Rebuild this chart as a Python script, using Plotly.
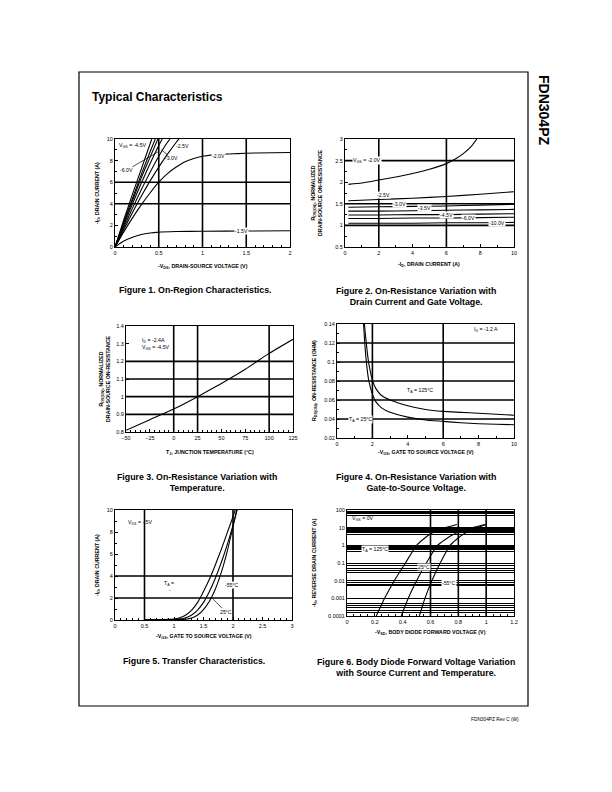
import math
import plotly.graph_objects as go

W, H = 612, 792
FONT = "Liberation Sans, Arial, Helvetica, sans-serif"

# ---------------- Figure 1: On-Region Characteristics ----------------
F1_VDS_10V = [0, 0.1, 0.2, 0.3, 0.42]
F1_ID_10V = [0, 2.5, 4.9, 7.2, 10.0]
F1_VDS_6V = [0, 0.1, 0.2, 0.3, 0.4, 0.46]
F1_ID_6V = [0, 2.3, 4.5, 6.7, 8.8, 10.0]
F1_VDS_45V = [0, 0.1, 0.2, 0.3, 0.4, 0.49]
F1_ID_45V = [0, 2.2, 4.3, 6.4, 8.3, 10.0]
F1_VDS_35V = [0, 0.1, 0.2, 0.3, 0.4, 0.5, 0.54]
F1_ID_35V = [0, 2.0, 4.0, 5.9, 7.7, 9.4, 10.0]
F1_VDS_3V = [0, 0.1, 0.2, 0.3, 0.4, 0.5, 0.6, 0.63]
F1_ID_3V = [0, 1.8, 3.6, 5.3, 6.9, 8.4, 9.7, 10.0]
F1_VDS_25V = [0, 0.1, 0.2, 0.3, 0.4, 0.5, 0.6, 0.7, 0.74]
F1_ID_25V = [0, 1.6, 3.2, 4.7, 6.1, 7.4, 8.6, 9.7, 10.1]
F1_VDS_2V = [0, 0.1, 0.2, 0.3, 0.4, 0.5, 0.6, 0.7, 0.8, 0.9, 1.0, 1.2, 1.4, 1.6, 2.0]
F1_ID_2V = [0, 1.4, 2.7, 3.9, 5.0, 6.0, 6.8, 7.4, 7.9, 8.2, 8.4, 8.6, 8.65, 8.7, 8.75]
F1_VDS_15V = [0, 0.1, 0.2, 0.3, 0.4, 0.5, 0.7, 1.0, 1.5, 2.0]
F1_ID_15V = [0, 0.55, 0.9, 1.15, 1.3, 1.38, 1.43, 1.46, 1.48, 1.5]

# ---------------- Figure 2: Normalized R vs drain current ----------------
F2_ID_2V = [0.2, 1, 2, 3, 4, 5, 6, 6.5, 7, 7.5, 7.8]
F2_R_2V = [1.95, 1.98, 2.05, 2.12, 2.2, 2.3, 2.43, 2.53, 2.66, 2.84, 3.0]
F2_ID = [0.2, 2, 4, 6, 8, 10]
F2_R_25V = [1.57, 1.60, 1.63, 1.67, 1.72, 1.78]
F2_R_3V = [1.42, 1.43, 1.44, 1.45, 1.47, 1.49]
F2_R_35V = [1.33, 1.33, 1.34, 1.35, 1.36, 1.37]
F2_R_45V = [1.24, 1.24, 1.25, 1.25, 1.26, 1.27]
F2_R_6V = [1.16, 1.16, 1.17, 1.17, 1.18, 1.19]
F2_R_10V = [1.05, 1.05, 1.05, 1.06, 1.06, 1.07]

# ---------------- Figure 3: Normalized R vs temperature ----------------
F3_TJ = [-50, -25, 0, 25, 50, 75, 100, 125]
F3_R = [0.81, 0.87, 0.93, 1.0, 1.075, 1.155, 1.245, 1.325]

# ---------------- Figure 4: R vs gate voltage ----------------
F4_VGS_125 = [1.55, 1.6, 1.7, 1.8, 2.0, 2.2, 2.5, 3, 4, 5, 6, 7, 8, 9, 10]
F4_R_125 = [0.14, 0.13, 0.112, 0.098, 0.081, 0.072, 0.065, 0.060, 0.054, 0.050,
            0.048, 0.047, 0.046, 0.045, 0.044]
F4_VGS_25 = [1.5, 1.55, 1.6, 1.7, 1.8, 2.0, 2.2, 2.5, 3, 4, 5, 6, 7, 8, 9, 10]
F4_R_25 = [0.14, 0.125, 0.112, 0.093, 0.080, 0.066, 0.058, 0.052, 0.047, 0.042,
           0.039, 0.0375, 0.036, 0.035, 0.0345, 0.034]

# ---------------- Figure 5: Transfer characteristics ----------------
F5_VGS_125 = [0.5, 0.8, 1.0, 1.1, 1.2, 1.3, 1.4, 1.5, 1.6, 1.7, 1.8, 1.9, 2.0, 2.05]
F5_ID_125 = [0.03, 0.04, 0.08, 0.2, 0.45, 0.9, 1.6, 2.6, 3.7, 5.0, 6.4, 7.9, 9.4, 10.2]
F5_VGS_25 = [0.5, 0.8, 1.0, 1.1, 1.2, 1.3, 1.4, 1.5, 1.6, 1.7, 1.8, 1.9, 2.0, 2.07]
F5_ID_25 = [0.02, 0.02, 0.04, 0.08, 0.2, 0.45, 0.9, 1.6, 2.6, 3.8, 5.2, 6.8, 8.6, 10.0]
F5_VGS_M55 = [0.5, 0.8, 1.0, 1.1, 1.2, 1.3, 1.4, 1.5, 1.6, 1.7, 1.8, 1.9, 2.0, 2.07]
F5_ID_M55 = [0.01, 0.01, 0.02, 0.03, 0.07, 0.18, 0.45, 0.95, 1.7, 2.8, 4.3, 6.2, 8.5, 10.2]

# ---------------- Figure 6: Body diode forward voltage ----------------
F6_IS = [1e-4, 1e-3, 1e-2, 1e-1, 1, 4, 9, 15]
F6_VSD_125 = [0.21, 0.27, 0.34, 0.42, 0.50, 0.59, 0.69, 0.79]
F6_VSD_25 = [0.39, 0.44, 0.50, 0.57, 0.65, 0.76, 0.88, 0.99]
F6_VSD_M55 = [0.52, 0.56, 0.61, 0.67, 0.74, 0.83, 0.92, 1.00]
F6_YTICKS = [1e-4, 1e-3, 1e-2, 1e-1, 1, 10, 100]
F6_YTICKTEXT = ["0.0001", "0.001", "0.01", "0.1", "1", "10", "100"]
# horizontal rules as printed on the chart
F6_YGRID = [0.00015, 0.0002, 0.0003, 0.0004, 0.0005, 0.001,
            0.005, 0.006, 0.008, 0.01,
            0.03, 0.04, 0.05, 0.07, 0.1,
            0.45, 0.6, 0.7, 0.8, 0.9, 1,
            4, 5, 6, 7, 8, 9, 10,
            50, 60, 70, 80, 90, 100]

# ---------------- layout helpers ----------------
fig = go.Figure()


def dom(x0, x1, y0, y1):
    return [x0 / W, x1 / W], [1 - y1 / H, 1 - y0 / H]


def axis(domain, anchor, rng, dtick=None, tick0=0, minor=None, **kw):
    d = dict(domain=domain, anchor=anchor, range=rng, showline=True, mirror=True,
             linecolor="black", linewidth=1, ticks="inside", ticklen=3,
             tickcolor="black", tickwidth=0.8, showgrid=False, zeroline=False,
             tickfont=dict(family=FONT, size=5.5, color="black"),
             automargin=False, fixedrange=True)
    if dtick is not None:
        d.update(dtick=dtick, tick0=tick0)
    if minor is not None:
        d["minor"] = dict(dtick=minor, tick0=tick0, ticks="inside", ticklen=2,
                          tickcolor="black", tickwidth=0.6, showgrid=False)
    d.update(kw)
    return d


def line(xr, yr, xs, ys, width=1.1, smooth=True):
    fig.add_trace(go.Scatter(x=xs, y=ys, xaxis=xr, yaxis=yr, mode="lines",
                             line=dict(color="black", width=width,
                                       shape="spline" if smooth else "linear",
                                       smoothing=0.5),
                             hoverinfo="skip", showlegend=False))


def grid(n, xs=(), ys=(), width=1.6):
    xr = "x" if n == 1 else f"x{n}"
    yr = "y" if n == 1 else f"y{n}"
    for v in xs:
        fig.add_shape(type="line", xref=xr, yref=f"{yr} domain", x0=v, x1=v, y0=0, y1=1,
                      line=dict(color="black", width=width), layer="below")
    for v in ys:
        fig.add_shape(type="line", xref=f"{xr} domain", yref=yr, x0=0, x1=1, y0=v, y1=v,
                      line=dict(color="black", width=width), layer="below")


annotations = []


def label(n, x, y, text, size=5.2, bg=None, xanchor="center", ax=None, ay=None):
    xr = "x" if n == 1 else f"x{n}"
    yr = "y" if n == 1 else f"y{n}"
    a = dict(xref=xr, yref=yr, x=x, y=y, text=text, showarrow=False,
             font=dict(family=FONT, size=size, color="black"), xanchor=xanchor,
             borderpad=0)
    if bg:
        a["bgcolor"] = bg
    if ax is not None:
        a.update(showarrow=True, axref=xr, ayref=yr, ax=ax, ay=ay, arrowhead=0,
                 arrowwidth=0.7, arrowcolor="black")
    annotations.append(a)


def paper_text(x, y, text, size, bold=False, angle=0, xanchor="center", align="center"):
    annotations.append(dict(xref="paper", yref="paper", x=x / W, y=1 - y / H,
                            text=f"<b>{text}</b>" if bold else text, showarrow=False,
                            textangle=angle, xanchor=xanchor, yanchor="middle",
                            align=align,
                            font=dict(family=FONT, size=size, color="black")))


# ---------------- plot domains ----------------
P = {
    1: (115, 290, 139, 247),
    2: (345, 514, 139, 247),
    3: (126, 293, 326, 432),
    4: (337, 514, 324, 438),
    5: (115, 292, 510, 620),
    6: (347, 514, 510, 616),
}
D = {k: dom(*v) for k, v in P.items()}

lay = {}
lay["xaxis"] = axis(D[1][0], "y", [0, 2], 0.5, 0, 0.1)
lay["yaxis"] = axis(D[1][1], "x", [0, 10], 2, 0, 1)
lay["xaxis2"] = axis(D[2][0], "y2", [0, 10], 2, 0, 1)
lay["yaxis2"] = axis(D[2][1], "x2", [0.5, 3], 0.5, 0.5, 0.25)
lay["xaxis3"] = axis(D[3][0], "y3", [-50, 125], 25, -50, 5)
lay["yaxis3"] = axis(D[3][1], "x3", [0.8, 1.4], 0.1, 0.8)
lay["xaxis4"] = axis(D[4][0], "y4", [0, 10], 2, 0, 1)
lay["yaxis4"] = axis(D[4][1], "x4", [0.02, 0.14], 0.02, 0.02, 0.01)
lay["xaxis5"] = axis(D[5][0], "y5", [0, 3], 0.5, 0, 0.1)
lay["yaxis5"] = axis(D[5][1], "x5", [0, 10], 2, 0, 1)
lay["xaxis6"] = axis(D[6][0], "y6", [0, 1.2], 0.2, 0, 0.05)
y6_vals = sorted(set(F6_YGRID) | set(F6_YTICKS))
y6_text = [F6_YTICKTEXT[F6_YTICKS.index(v)] if v in F6_YTICKS else "" for v in y6_vals]
lay["yaxis6"] = axis(D[6][1], "x6", [-4, 2], type="log", tickmode="array",
                     tickvals=y6_vals, ticktext=y6_text, showgrid=True,
                     gridcolor="black", gridwidth=0.9)
fig.update_layout(**lay)

# ---------------- gridlines ----------------
grid(1, xs=[0.5, 1, 1.5], ys=[4, 6])
grid(2, xs=[2, 6], ys=[1.0, 1.5, 2.5])
grid(3, xs=[0, 25, 100], ys=[0.9, 1.0, 1.1, 1.2])
grid(4, xs=[2, 6], ys=[0.04, 0.06, 0.08, 0.10, 0.12])
grid(5, xs=[0.5, 2], ys=[2, 4])
grid(6, xs=[0.6, 0.8, 1.0])

# ---------------- curves ----------------
for xs, ys in [(F1_VDS_10V, F1_ID_10V), (F1_VDS_6V, F1_ID_6V), (F1_VDS_45V, F1_ID_45V),
               (F1_VDS_35V, F1_ID_35V), (F1_VDS_3V, F1_ID_3V), (F1_VDS_25V, F1_ID_25V),
               (F1_VDS_2V, F1_ID_2V), (F1_VDS_15V, F1_ID_15V)]:
    line("x", "y", xs, ys)

line("x2", "y2", F2_ID_2V, F2_R_2V)
for r in [F2_R_25V, F2_R_3V, F2_R_35V, F2_R_45V, F2_R_6V, F2_R_10V]:
    line("x2", "y2", F2_ID, r)

line("x3", "y3", F3_TJ, F3_R)

line("x4", "y4", F4_VGS_125, F4_R_125)
line("x4", "y4", F4_VGS_25, F4_R_25)

line("x5", "y5", F5_VGS_125, F5_ID_125)
line("x5", "y5", F5_VGS_25, F5_ID_25)
line("x5", "y5", F5_VGS_M55, F5_ID_M55)

for v in [F6_VSD_125, F6_VSD_25, F6_VSD_M55]:
    line("x6", "y6", v, F6_IS)

# ---------------- in-plot labels ----------------
WHITE = "white"
label(1, 0.03, 9.38, "V<sub>GS</sub> = -4.5V", xanchor="left")
label(1, 0.49, 8.8, "-6.0V", ax=0.13, ay=7.1)
label(1, 0.53, 9.0, "-3.0V", ax=0.65, ay=8.2)
label(1, 0.77, 9.38, "-2.5V")
label(1, 1.18, 8.4, "-2.0V", bg=WHITE)
label(1, 1.45, 1.45, "-1.5V", bg=WHITE)

label(2, 0.4, 2.5, "V<sub>GS</sub> = -2.0V", xanchor="left", bg=WHITE)
label(2, 2.26, 1.70, "-2.5V", bg=WHITE)
label(2, 3.2, 1.5, "-3.0V", bg=WHITE)
label(2, 4.7, 1.40, "-3.5V", bg=WHITE)
label(2, 6.0, 1.25, "-4.5V", bg=WHITE)
label(2, 7.3, 1.16, "-6.0V", bg=WHITE)
label(2, 9.0, 1.05, "-10.0V", bg=WHITE)

label(3, -34, 1.32, "I<sub>D</sub> = -2.4A", xanchor="left")
label(3, -34, 1.28, "V<sub>GS</sub> = -4.5V", xanchor="left")

label(4, 8.4, 0.134, "I<sub>D</sub> = -1.2 A")
label(4, 4.7, 0.0705, "T<sub>A</sub> = 125°C", bg=WHITE)
label(4, 1.35, 0.040, "T<sub>A</sub> = 25°C", bg=WHITE)

label(5, 0.43, 8.9, "V<sub>DS</sub> = - 5V")
label(5, 0.91, 3.3, "T<sub>A</sub> =")
label(5, 0.93, 2.7, "-")
label(5, 1.99, 3.2, "-55°C", bg=WHITE)
label(5, 1.66, 1.9, "25°C", ax=1.875, ay=0.76)

label(6, 0.03, math.log10(34), "V<sub>GS</sub> = 0V", xanchor="left")
label(6, 0.2, math.log10(0.6), "T<sub>A</sub> = 125°C", bg=WHITE)
label(6, 0.55, math.log10(0.056), "25°C", bg=WHITE)
label(6, 0.73, math.log10(0.0074), "-55°C", bg=WHITE)

# ---------------- axis titles ----------------
TS = 5.3


def cx(n):
    return (P[n][0] + P[n][1]) / 2


def cy(n):
    return (P[n][2] + P[n][3]) / 2


paper_text(cx(1), 266, "-V<sub>DS</sub>, DRAIN-SOURCE VOLTAGE (V)", TS, bold=True)
paper_text(97, cy(1), "-I<sub>D</sub>, DRAIN CURRENT (A)", TS, bold=True, angle=-90)
paper_text(cx(2), 265, "-I<sub>D</sub>, DRAIN CURRENT (A)", TS, bold=True)
paper_text(316, cy(2), "R<sub>DS(ON)</sub>, NORMALIZED<br>DRAIN-SOURCE ON-RESISTANCE", TS,
           bold=True, angle=-90)
paper_text(cx(3), 452, "T<sub>J</sub>, JUNCTION TEMPERATURE (°C)", TS, bold=True)
paper_text(104, cy(3), "R<sub>DS(ON)</sub>, NORMALIZED<br>DRAIN-SOURCE ON-RESISTANCE", TS,
           bold=True, angle=-90)
paper_text(cx(4), 452, "-V<sub>GS</sub>, GATE TO SOURCE VOLTAGE (V)", TS, bold=True)
paper_text(314, cy(4), "R<sub>DS(ON)</sub>, ON-RESISTANCE (OHM)", TS, bold=True, angle=-90)
paper_text(cx(5), 636, "-V<sub>GS</sub>, GATE TO SOURCE VOLTAGE (V)", TS, bold=True)
paper_text(97, cy(5), "-I<sub>D</sub>, DRAIN CURRENT (A)", TS, bold=True, angle=-90)
paper_text(cx(6), 632, "-V<sub>SD</sub>, BODY DIODE FORWARD VOLTAGE (V)", TS, bold=True)
paper_text(314, cy(6), "-I<sub>S</sub>, REVERSE DRAIN CURRENT (A)", TS, bold=True, angle=-90)

# ---------------- captions & page text ----------------
CS = 8.8
paper_text(195, 290, "Figure 1. On-Region Characteristics.", CS, bold=True)
paper_text(416, 296, "Figure 2. On-Resistance Variation with<br>Drain Current and Gate Voltage.", CS, bold=True)
paper_text(197, 482, "Figure 3. On-Resistance Variation with<br>Temperature.", CS, bold=True)
paper_text(416, 482, "Figure 4. On-Resistance Variation with<br>Gate-to-Source Voltage.", CS, bold=True)
paper_text(194, 661, "Figure 5. Transfer Characteristics.", CS, bold=True)
paper_text(416, 667, "Figure 6. Body Diode Forward Voltage Variation<br>with Source Current and Temperature.", CS, bold=True)

paper_text(90, 97, "Typical Characteristics", 12, bold=True, xanchor="left")
paper_text(544, 110, "FDN304PZ", 14, bold=True, angle=90)
paper_text(521, 719, "FDN304PZ Rev C (W)", 4.8, xanchor="right")

fig.add_shape(type="rect", xref="paper", yref="paper", x0=79 / W, x1=528 / W,
              y0=1 - 706 / H, y1=1 - 72 / H, line=dict(color="black", width=1.2))

fig.update_layout(width=W, height=H, margin=dict(l=0, r=0, t=0, b=0),
                  paper_bgcolor="white", plot_bgcolor="white", showlegend=False,
                  font=dict(family=FONT, color="black"), annotations=annotations)

fig.write_html("out.html")
